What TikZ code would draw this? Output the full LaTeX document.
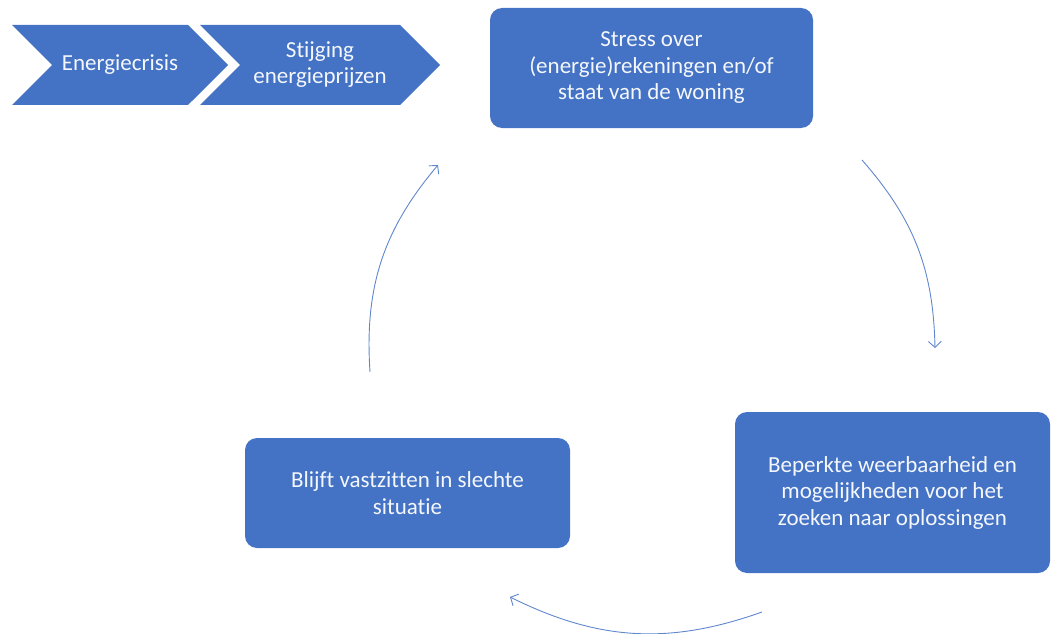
\documentclass[tikz,border=0pt]{standalone}
\usepackage{fontspec}
\setmainfont{Carlito}[Ligatures=NoCommon]
\usepackage{tikz}
\usetikzlibrary{arrows.meta}
\usetikzlibrary{shapes.symbols}

\definecolor{blauw}{HTML}{4472C4}

\begin{document}
\begin{tikzpicture}[x=1pt,y=-1pt]
  \tikzset{mybox/.style={rectangle, rounded corners=12pt, fill=blauw, text=white!94!blauw, align=center, outer sep=0pt, font=\fontsize{23}{26.5}\selectfont}};
  \tikzset{mychev/.style={signal, signal to=east, signal from=west, signal pointer angle=90, fill=blauw, text=white!94!blauw, align=center, minimum height=80pt, inner sep=0pt, outer sep=0pt, font=\fontsize{23}{26}\selectfont}};
  \tikzset{myedge/.style={-{Straight Barb[length=6pt,width=13pt]}, draw=blauw!85, line width=0.9pt}};
  \useasboundingbox (0,0) rectangle (1053,634);

  \node[mychev, minimum width=216pt] (e1) at (120,65) {Energiecrisis};
  \node[mychev, minimum width=240pt] (e2) at (320,65) {Stijging\\energieprijzen};

  \node[mybox, minimum width=323pt, minimum height=120pt] (s) at (651.5,68) {Stress over\\(energie)rekeningen en/of\\staat van de woning};
  \node[mybox, minimum width=315pt, minimum height=161pt] (b) at (892.5,492.5) {Beperkte weerbaarheid en\\mogelijkheden voor het\\zoeken naar oplossingen};
  \node[mybox, minimum width=325pt, minimum height=110pt] (v) at (407.5,493) {Blijft vastzitten in slechte\\situatie};

  \coordinate (a1) at (862,160);  \coordinate (a2) at (935,348);
  \coordinate (a3) at (762,612);  \coordinate (a4) at (510,597);
  \coordinate (a5) at (370,372);  \coordinate (a6) at (438,165);
  \draw [myedge] (a1) to[bend left=20] (a2);
  \draw [myedge] (a3) to[bend left=23] (a4);
  \draw [myedge] (a5) to[bend left=22] (a6);

\end{tikzpicture}
\end{document}
